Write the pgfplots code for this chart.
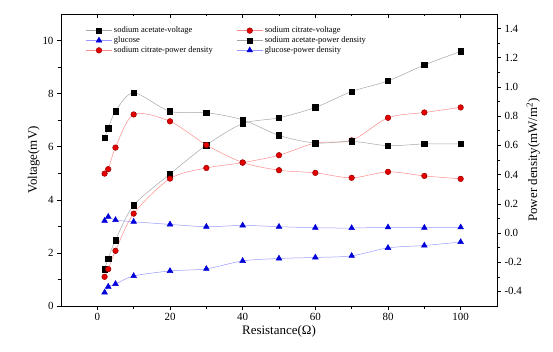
\documentclass[border=0pt]{standalone}
\usepackage{fontspec}
\setmainfont{Liberation Serif}
\usepackage{pgfplots}
\pgfplotsset{compat=1.18}
\pgfplotsset{
  acv/.style={color=gray!70, line width=0.5pt, smooth, mark=square*, mark size=2.7bp, mark options={solid, fill=black, draw=black}},
  cit/.style={color=red!45, line width=0.5pt, smooth, mark=*, mark size=2.8bp, mark options={solid, fill=red!90!black, draw=red!60!black}},
  glu/.style={color=blue!40, line width=0.5pt, smooth, mark=triangle*, mark size=3.3bp, mark options={solid, fill=blue!85!black, draw=blue!85!black}},
  common/.style={scale only axis, width=436bp, height=292bp, xmin=-10, xmax=110,
    tick label style={font=\fontsize{11}{12}\selectfont},
    label style={font=\fontsize{13}{15}\selectfont},
    /pgf/number format/assume math mode=true,
    major tick length=4bp, minor tick length=2.5bp,
    every tick/.style={black, line width=0.6pt}, axis line style={line width=0.8pt}}
}
\begin{document}
\begin{tikzpicture}
\useasboundingbox (-61bp,-46bp) rectangle (492bp,306bp);
% left axis: voltage
\begin{axis}[common,
  ymin=0, ymax=11,
  xtick={0,20,40,60,80,100}, minor x tick num=1,
  ytick={0,2,4,6,8,10}, minor y tick num=1,
  xtick pos=bottom, ytick pos=left, tick align=outside,
  xlabel={Resistance(Ω)}, ylabel={Voltage(mV)},
  xlabel style={yshift=2bp}, ylabel style={yshift=-4bp}]
\addplot[acv] coordinates {(2,1.38)(3,1.79)(5,2.48)(10,3.79)(20,4.97)(30,6.06)(40,6.87)(50,7.09)(60,7.48)(70,8.08)(80,8.48)(90,9.08)(100,9.59)};
\addplot[cit] coordinates {(2,1.10)(3,1.39)(5,2.08)(10,3.48)(20,4.80)(30,5.20)(40,5.40)(50,5.68)(60,6.14)(70,6.24)(80,7.09)(90,7.29)(100,7.48)};
\addplot[glu] coordinates {(2,0.51)(3,0.73)(5,0.83)(10,1.13)(20,1.32)(30,1.40)(40,1.70)(50,1.79)(60,1.83)(70,1.89)(80,2.19)(90,2.28)(100,2.41)};
\end{axis}
% top ticks pointing inward
\begin{axis}[common, ymin=0, ymax=11, hide y axis, axis x line*=top,
  xtick={0,20,40,60,80,100}, minor x tick num=1, xticklabels={}, tick align=inside]
\end{axis}
% right axis: power density
\begin{axis}[common,
  ymin=-0.5, ymax=1.5,
  axis x line=none, axis y line*=right, ytick pos=right, tick align=outside,
  ytick={-0.4,-0.2,0,0.2,0.4,0.6,0.8,1.0,1.2,1.4}, minor y tick num=1,
  yticklabel style={/pgf/number format/.cd, fixed, fixed zerofill, precision=1},
  ylabel={Power density(mW/m\textsuperscript{2})}, ylabel style={yshift=2bp},
  legend columns=2,
  legend style={at={(0.05,0.97)}, anchor=north west, draw=none, fill=none,
    font=\fontsize{8.5}{9.5}\selectfont, row sep=-1.5bp,
    /tikz/every even column/.append style={column sep=22bp}},
  legend cell align=left,
  legend image code/.code={\draw[mark repeat=2, mark phase=2] plot coordinates {(0cm,0cm) (0.45cm,0cm) (0.9cm,0cm)};}]
\addlegendimage{acv}\addlegendentry{sodium acetate-voltage}
\addlegendimage{cit}\addlegendentry{sodium citrate-voltage}
\addlegendimage{glu}\addlegendentry{glucose}
\addplot[acv] coordinates {(2,0.653)(3,0.717)(5,0.833)(10,0.960)(20,0.833)(30,0.824)(40,0.775)(50,0.669)(60,0.616)(70,0.628)(80,0.598)(90,0.610)(100,0.610)};
\addlegendentry{sodium acetate-power density}
\addplot[cit] coordinates {(2,0.407)(3,0.437)(5,0.585)(10,0.812)(20,0.765)(30,0.603)(40,0.483)(50,0.430)(60,0.412)(70,0.378)(80,0.419)(90,0.391)(100,0.371)};
\addlegendentry{sodium citrate-power density}
\addplot[glu] coordinates {(2,0.084)(3,0.111)(5,0.089)(10,0.077)(20,0.059)(30,0.043)(40,0.052)(50,0.043)(60,0.036)(70,0.034)(80,0.039)(90,0.036)(100,0.039)};
\addlegendentry{glucose-power density}
\end{axis}
\end{tikzpicture}
\end{document}
